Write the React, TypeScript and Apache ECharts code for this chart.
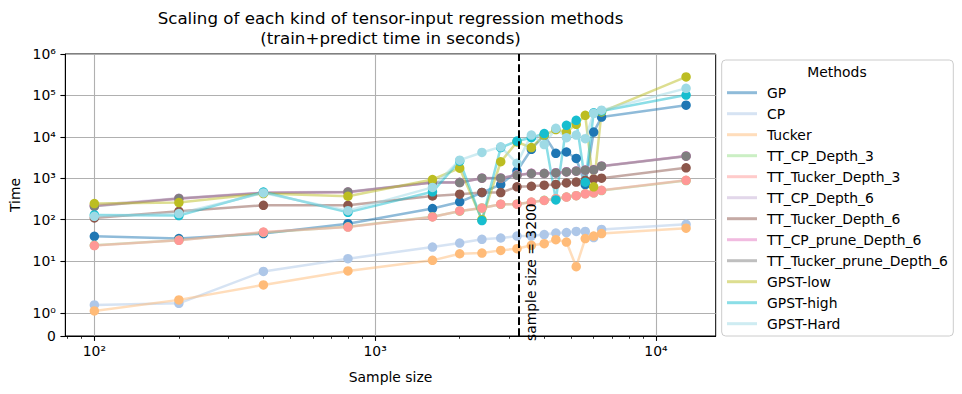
import React, { useEffect, useRef } from "react";
import * as echarts from "echarts";

// ---- data ----
const sampleSizes = [100, 200, 400, 800, 1600, 2000, 2400, 2800, 3200, 3600, 4000, 4400, 4800, 5200, 5600, 6000, 6400, 12800];

const gpTime = [39.5, 34.8, 46, 80, 185, 267, 450, 705, 1480, 5000, 11000, 4000, 4300, 3000, 700, 13000, 30000, 58000];
const cpTime = [1.35, 1.42, 5.6, 11.4, 21.8, 27.2, 33.5, 36, 40, 40, 43.5, 47.5, 48.6, 52, 52, 37, 58, 77];
const tuckerTime = [1.09, 1.57, 2.65, 5.78, 10.4, 15, 15.6, 18.1, 19.9, 24, 26.3, 32.9, 28.8, 7.3, 35, 40, 46, 62];
const ttCpDepth3Time = [24, 32, 49, 67, 118, 160, 192, 234, 238, 262, 292, 318, 352, 378, 422, 443, 505, 880];
const ttTuckerDepth3Time = [23.6, 31.7, 50, 66, 116, 162, 190, 236, 236, 265, 290, 320, 350, 380, 420, 445, 510, 890];
const ttCpDepth6Time = [225, 330, 450, 470, 800, 795, 1010, 1020, 1200, 1320, 1310, 1360, 1440, 1500, 1580, 1620, 1980, 3450];
const ttTuckerDepth6Time = [110, 159, 222, 222, 372, 411, 455, 450, 620, 640, 680, 710, 770, 810, 890, 950, 1000, 1780];
const ttCpPruneDepth6Time = [215, 320, 445, 460, 790, 790, 1000, 1000, 1190, 1310, 1300, 1350, 1430, 1490, 1570, 1610, 1960, 3420];
const ttTuckerPruneDepth6Time = [210, 323, 441, 463, 787, 787, 1000, 1000, 1180, 1300, 1300, 1340, 1420, 1480, 1560, 1600, 1950, 3400];
const gpstLowTime = [245, 259, 427, 367, 931, 1750, 100, 2500, 7500, 5500, 11000, 15000, 13000, 20000, 33000, 620, 40000, 280000];
const gpstHighTime = [130, 125, 463, 150, 470, 2600, 95, 5500, 7900, 9500, 12000, 300, 19000, 25000, 800, 38000, 42000, 102000];
const gpstHardTime = [120, 140, 441, 165, 600, 2730, 4190, 5730, 2300, 11000, 6500, 16000, 9500, 11000, 9000, 37000, 44000, 148000];

const methodNames = [
  "GP", "CP", "Tucker", "TT_CP_Depth_3", "TT_Tucker_Depth_3", "TT_CP_Depth_6",
  "TT_Tucker_Depth_6", "TT_CP_prune_Depth_6", "TT_Tucker_prune_Depth_6",
  "GPST-low", "GPST-high", "GPST-Hard",
];
const methodValues = [
  gpTime, cpTime, tuckerTime, ttCpDepth3Time, ttTuckerDepth3Time, ttCpDepth6Time,
  ttTuckerDepth6Time, ttCpPruneDepth6Time, ttTuckerPruneDepth6Time,
  gpstLowTime, gpstHighTime, gpstHardTime,
];
const methodColors = [
  "#1f77b4", "#aec7e8", "#ffbb78", "#98df8a", "#ff9896", "#c5b0d5",
  "#8c564b", "#e377c2", "#7f7f7f", "#bcbd22", "#17becf", "#9edae5",
];

const xTickValues = [100, 1000, 10000];
const xTickLabels = ["10²", "10³", "10⁴"];
const xMinorTickValues = [80, 90, 200, 300, 400, 500, 600, 700, 800, 900, 2000, 3000, 4000, 5000, 6000, 7000, 8000, 9000];
const yTickValues = [0, 1, 10, 100, 1000, 10000, 100000, 1000000];
const yTickLabels = ["0", "10⁰", "10¹", "10²", "10³", "10⁴", "10⁵", "10⁶"];
const cutoffSample = 3200;

const X_MIN = 78.8;
const X_MAX = 16320;
const Y_MAX = 1000000;

// symlog (base 10, linthresh 2, linscale 1) as matplotlib
const LINTHRESH = 2;
const LINSCALE_ADJ = 1 / (1 - 1 / 10);
const symlog = (v: number) =>
  v <= LINTHRESH ? (v / LINTHRESH) * LINSCALE_ADJ : LINSCALE_ADJ + Math.log10(v / LINTHRESH);
const lg = (v: number) => Math.log10(v);

const FONT = "DejaVu Sans";
const FS = 13.9;

function rgba(hex: string, a: number) {
  const n = parseInt(hex.slice(1), 16);
  return `rgba(${(n >> 16) & 255},${(n >> 8) & 255},${n & 255},${a})`;
}

export default function App() {
  const ref = useRef<HTMLDivElement>(null);
  useEffect(() => {
    if (!ref.current) return;
    const chart = echarts.init(ref.current, undefined, { renderer: "svg" });
    const xTickPos = xTickValues.map(lg);
    const yTickPos = yTickValues.map(symlog);

    const dataSeries = methodNames.map((name, i) => ({
      type: "line",
      name,
      data: sampleSizes.map((s, j) => [lg(s), symlog(methodValues[i][j])]),
      symbol: "circle",
      symbolSize: 9.5,
      showSymbol: true,
      silent: true,
      z: 3,
      lineStyle: { color: methodColors[i], width: 2.5, opacity: 0.5 },
      itemStyle: { color: methodColors[i], opacity: 1, borderWidth: 0 },
      emphasis: { disabled: true },
    }));

    chart.setOption({
      animation: false,
      textStyle: { fontFamily: FONT },
      title: {
        text: "Scaling of each kind of tensor-input regression methods\n(train+predict time in seconds)",
        left: 390.5,
        top: 8.3,
        textAlign: "center",
        padding: 0,
        textStyle: { fontFamily: FONT, fontSize: 16.67, fontWeight: "normal", color: "#000", lineHeight: 20 },
      },
      grid: {
        left: 65.3, top: 54, width: 650.4, height: 282,
        show: true, borderColor: "#000", borderWidth: 1,
        outerBoundsMode: "none",
      },
      legend: {
        orient: "vertical",
        left: 727,
        top: 84.7,
        padding: 0,
        itemWidth: 30,
        itemHeight: 3,
        itemGap: 5,
        icon: "rect",
        selectedMode: false,
        textStyle: { fontFamily: FONT, fontSize: FS, color: "#000", lineHeight: 16, padding: [0, 0, 0, 5] },
        data: methodNames.map((n, i) => ({ name: n, itemStyle: { color: rgba(methodColors[i], 0.5) } })),
      },
      xAxis: [
        {
          type: "value",
          min: lg(X_MIN),
          max: lg(X_MAX),
          position: "bottom",
          axisLine: { show: true, lineStyle: { color: "#000", width: 1 } },
          axisTick: { show: true, customValues: xTickPos, length: 4.9, lineStyle: { color: "#000", width: 1.1 } },
          axisLabel: {
            show: true,
            customValues: xTickPos,
            margin: 8,
            color: "#000",
            fontFamily: FONT,
            fontSize: FS,
            formatter: (v: number) => {
              const k = xTickPos.findIndex((p) => Math.abs(p - v) < 1e-6);
              return k >= 0 ? xTickLabels[k] : "";
            },
          },
          splitLine: { show: true, lineStyle: { color: "#b0b0b0", width: 1.1 } },
        },
        {
          type: "value",
          min: lg(X_MIN),
          max: lg(X_MAX),
          position: "bottom",
          axisLine: { show: false },
          axisTick: { show: true, customValues: xMinorTickValues.map(lg), length: 2.8, lineStyle: { color: "#000", width: 0.8 } },
          axisLabel: { show: false },
          splitLine: { show: false },
        },
      ],
      yAxis: {
        type: "value",
        min: 0,
        max: symlog(Y_MAX),
        axisLine: { show: true, lineStyle: { color: "#000", width: 1 } },
        axisTick: { show: true, customValues: yTickPos, length: 4.9, lineStyle: { color: "#000", width: 1.1 } },
        axisLabel: {
          show: true,
          customValues: yTickPos,
          margin: 9.5,
          color: "#000",
          fontFamily: FONT,
          fontSize: FS,
          formatter: (v: number) => {
            const k = yTickPos.findIndex((p) => Math.abs(p - v) < 1e-6);
            return k >= 0 ? yTickLabels[k] : "";
          },
        },
        splitLine: { show: true, lineStyle: { color: "#b0b0b0", width: 1.1 } },
      },
      series: [
        {
          type: "line",
          name: "__cutoff",
          data: [],
          silent: true,
          z: 4,
          markLine: {
            silent: true,
            symbol: ["none", "none"],
            animation: false,
            label: { show: false },
            lineStyle: { color: "#000", width: 2, type: [7.7, 3.3], opacity: 1 },
            data: [{ xAxis: lg(cutoffSample) }],
          },
        },
        ...dataSeries,
      ],
    });

    const cutX = chart.convertToPixel({ xAxisIndex: 0 }, lg(cutoffSample)) as number;
    const bottomY = chart.convertToPixel({ yAxisIndex: 0 }, 0) as number;
    const topY = chart.convertToPixel({ yAxisIndex: 0 }, symlog(Y_MAX)) as number;
    const leftX = chart.convertToPixel({ xAxisIndex: 0 }, lg(X_MIN)) as number;
    const rightX = chart.convertToPixel({ xAxisIndex: 0 }, lg(X_MAX)) as number;

    chart.setOption({
      graphic: [
        {
          type: "rect",
          z: 0,
          shape: { x: 721.7, y: 60, width: 231.6, height: 276, r: 4 },
          style: { fill: "rgba(255,255,255,0.8)", stroke: "#cccccc", lineWidth: 1 },
        },
        {
          type: "text",
          x: 837, y: 72,
          style: { text: "Methods", font: `${FS}px "${FONT}"`, fill: "#000", align: "center", verticalAlign: "middle" },
        },
        {
          type: "text",
          x: (leftX + rightX) / 2, y: 377,
          style: { text: "Sample size", font: `${FS}px "${FONT}"`, fill: "#000", align: "center", verticalAlign: "middle" },
        },
        {
          type: "text",
          x: 15, y: (topY + bottomY) / 2,
          rotation: Math.PI / 2,
          style: { text: "Time", font: `${FS}px "${FONT}"`, fill: "#000", align: "center", verticalAlign: "middle" },
        },
        {
          type: "text",
          x: cutX + 14, y: bottomY + 5,
          rotation: Math.PI / 2,
          z: 10,
          style: { text: `sample size = ${cutoffSample}`, font: `${FS}px "${FONT}"`, fill: "#000", align: "left", verticalAlign: "middle" },
        },
      ],
    });

    return () => chart.dispose();
  }, []);
  return <div ref={ref} style={{ position: "absolute", left: 0, top: 0, width: 962, height: 394, background: "#fff" }} />;
}
